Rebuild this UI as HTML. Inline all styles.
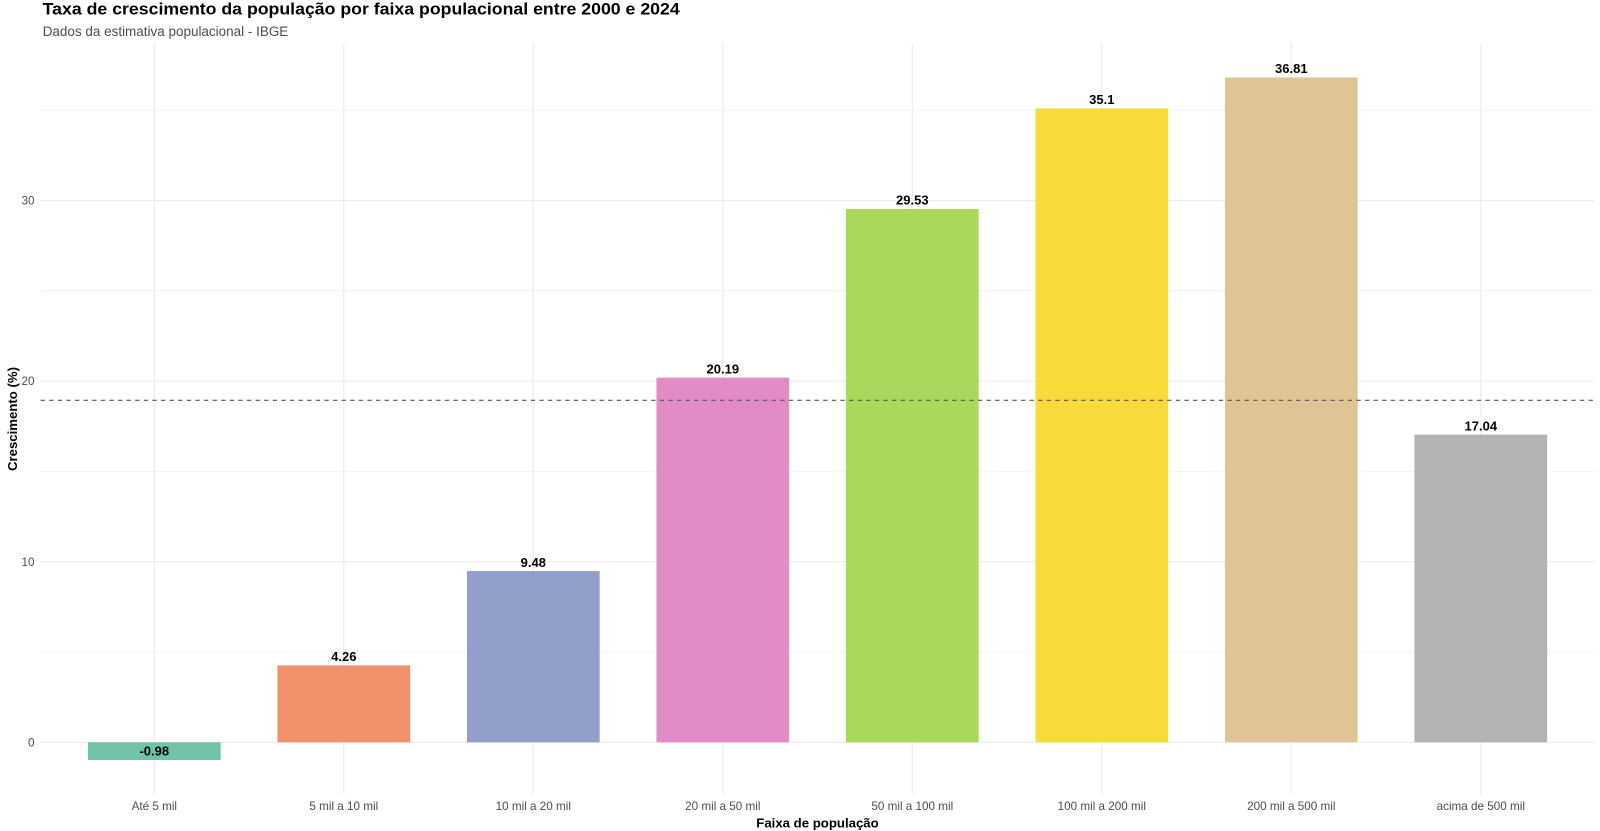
<!DOCTYPE html>
<html>
<head>
<meta charset="utf-8">
<style>
  html, body { margin: 0; padding: 0; background: #ffffff; }
  svg { display: block; }
  text { font-family: "Liberation Sans", Arial, sans-serif; }
</style>
</head>
<body>
<svg width="1600" height="831" viewBox="0 0 1600 831" xmlns="http://www.w3.org/2000/svg">
  <rect x="0" y="0" width="1600" height="831" fill="#ffffff"/>

  <!-- Title & subtitle -->
  <text x="42.7" y="14.5" font-size="17" font-weight="bold" fill="#000000" textLength="637" lengthAdjust="spacingAndGlyphs">Taxa de crescimento da população por faixa populacional entre 2000 e 2024</text>
  <text x="42.7" y="36" font-size="13.5" fill="#4d4d4d" textLength="245.6" lengthAdjust="spacingAndGlyphs">Dados da estimativa populacional - IBGE</text>

  <!-- Minor horizontal gridlines -->
  <g stroke="#ebebeb" stroke-width="0.55">
    <line x1="40.6" x2="1594.5" y1="651.9" y2="651.9"/>
    <line x1="40.6" x2="1594.5" y1="471.4" y2="471.4"/>
    <line x1="40.6" x2="1594.5" y1="290.8" y2="290.8"/>
    <line x1="40.6" x2="1594.5" y1="110.2" y2="110.2"/>
  </g>
  <!-- Major horizontal gridlines -->
  <g stroke="#ebebeb" stroke-width="1.07">
    <line x1="40.6" x2="1594.5" y1="742.3" y2="742.3"/>
    <line x1="40.6" x2="1594.5" y1="561.7" y2="561.7"/>
    <line x1="40.6" x2="1594.5" y1="381.1" y2="381.1"/>
    <line x1="40.6" x2="1594.5" y1="200.5" y2="200.5"/>
  </g>
  <!-- Vertical gridlines -->
  <g stroke="#ebebeb" stroke-width="1.07">
    <line x1="154.3" x2="154.3" y1="43.4" y2="794.1"/>
    <line x1="343.8" x2="343.8" y1="43.4" y2="794.1"/>
    <line x1="533.3" x2="533.3" y1="43.4" y2="794.1"/>
    <line x1="722.8" x2="722.8" y1="43.4" y2="794.1"/>
    <line x1="912.3" x2="912.3" y1="43.4" y2="794.1"/>
    <line x1="1101.8" x2="1101.8" y1="43.4" y2="794.1"/>
    <line x1="1291.3" x2="1291.3" y1="43.4" y2="794.1"/>
    <line x1="1480.8" x2="1480.8" y1="43.4" y2="794.1"/>
  </g>

  <!-- Bars -->
  <rect x="87.95"  y="742.3"  width="132.7" height="17.7"   fill="#70c3a8"/>
  <rect x="277.45" y="665.36" width="132.7" height="76.94"  fill="#f2926a"/>
  <rect x="466.95" y="571.09" width="132.7" height="171.21" fill="#919fca"/>
  <rect x="656.45" y="377.67" width="132.7" height="364.63" fill="#e28bc4"/>
  <rect x="845.95" y="208.99" width="132.7" height="533.31" fill="#aad85a"/>
  <rect x="1035.45" y="108.39" width="132.7" height="633.91" fill="#f9da3b"/>
  <rect x="1224.95" y="77.51" width="132.7" height="664.79" fill="#e0c495"/>
  <rect x="1414.45" y="434.56" width="132.7" height="307.74" fill="#b3b3b3"/>

  <!-- Mean dashed line -->
  <line x1="40.6" x2="1594.5" y1="400.3" y2="400.3" stroke="#555555" stroke-width="1.07" stroke-dasharray="4.3,4.3"/>

  <!-- Value labels -->
  <g font-size="13" font-weight="bold" fill="#000000" text-anchor="middle">
    <text x="154.3" y="755.7">-0.98</text>
    <text x="343.8" y="661.1">4.26</text>
    <text x="533.3" y="566.8">9.48</text>
    <text x="722.8" y="373.4">20.19</text>
    <text x="912.3" y="204.7">29.53</text>
    <text x="1101.8" y="104.1">35.1</text>
    <text x="1291.3" y="73.2">36.81</text>
    <text x="1480.8" y="430.3">17.04</text>
  </g>

  <!-- Y axis tick labels -->
  <g font-size="11.7" fill="#4d4d4d" text-anchor="end">
    <text x="34.5" y="746.4">0</text>
    <text x="34.5" y="565.8">10</text>
    <text x="34.5" y="385.2">20</text>
    <text x="34.5" y="204.6">30</text>
  </g>

  <!-- X axis tick labels -->
  <g font-size="11.7" fill="#4d4d4d" text-anchor="middle">
    <text x="154.3" y="810">Até 5 mil</text>
    <text x="343.8" y="810">5 mil a 10 mil</text>
    <text x="533.3" y="810">10 mil a 20 mil</text>
    <text x="722.8" y="810">20 mil a 50 mil</text>
    <text x="912.3" y="810">50 mil a 100 mil</text>
    <text x="1101.8" y="810">100 mil a 200 mil</text>
    <text x="1291.3" y="810">200 mil a 500 mil</text>
    <text x="1480.8" y="810">acima de 500 mil</text>
  </g>

  <!-- Axis titles -->
  <text x="817.5" y="827.6" font-size="13.2" font-weight="bold" fill="#000000" text-anchor="middle">Faixa de população</text>
  <text transform="translate(17,419) rotate(-90)" font-size="13.2" font-weight="bold" fill="#000000" text-anchor="middle">Crescimento (%)</text>
</svg>
</body>
</html>
